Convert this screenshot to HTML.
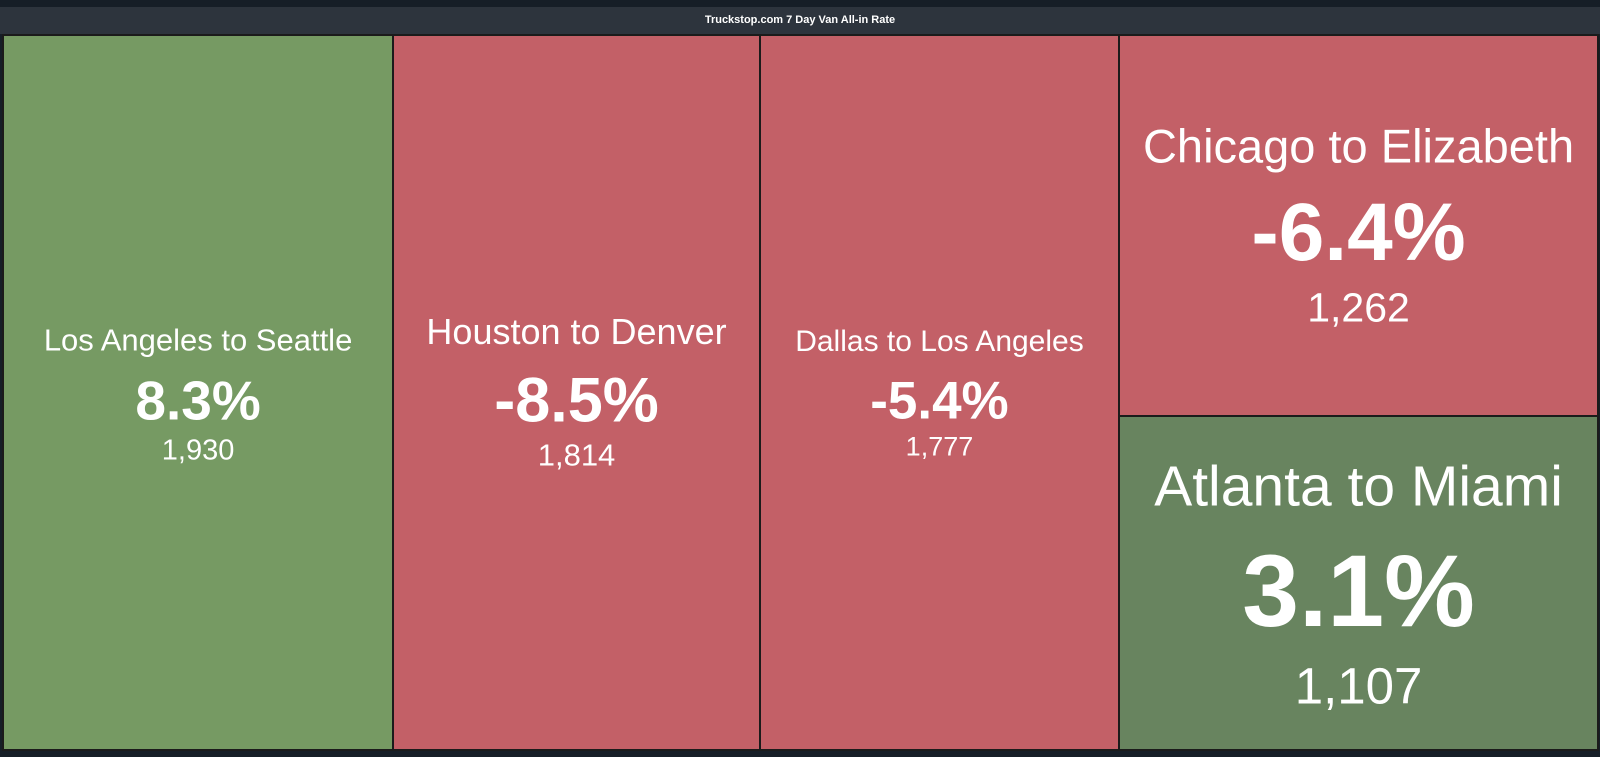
<!DOCTYPE html>
<html><head><meta charset="utf-8">
<style>
html,body{margin:0;padding:0;width:1600px;height:757px;overflow:hidden;background:#161e27;font-family:"Liberation Sans",sans-serif}
#hdr{position:absolute;left:0;top:7px;width:1600px;height:27px;background:#2d343d;color:#fff;font-size:11px;font-weight:bold;text-align:center;line-height:27px}
#tm{position:absolute;left:2px;top:34px;width:1597px;height:717px;background:#1b1b1b}
.tile{position:absolute;color:#fff;text-align:center}
.t{position:absolute;left:0;right:0;white-space:nowrap;line-height:1;transform:translateY(-50%)}
</style></head><body>
<div id="hdr">Truckstop.com 7 Day Van All-in Rate</div>
<div id="tm"></div>
<script>
const lanes = ["Los Angeles to Seattle","Houston to Denver","Dallas to Los Angeles","Chicago to Elizabeth","Atlanta to Miami"];
const changes = [8.3, -8.5, -5.4, -6.4, 3.1];
const rates = [1930, 1814, 1777, 1262, 1107];
// style settings (not data): font sizes [label, pct, value]
const fonts = [[31,55,29],[36,63,31],[30,53,27],[47,82,41],[57,102,51]];
const colors = ["#769a63","#c36067","#c36067","#c36067","#68845f"];
const tm = document.getElementById('tm');
const W = 1595, H = 715, OX = 1, OY = 1;
const total = rates.reduce((a,b)=>a+b,0);
const rects = [];
let x = 0;
for (let i=0;i<3;i++){ const w = rates[i]/total*W; rects.push([x,0,w,H]); x+=w; }
const colW = W - x, stackTot = rates[3]+rates[4];
const h3 = rates[3]/stackTot*H;
rects.push([x,0,colW,h3]); rects.push([x,h3,colW,H-h3]);
const fmt = n => n.toLocaleString('en-US');
rects.forEach((r,i)=>{
  const d = document.createElement('div');
  d.className='tile';
  
  
  const th = r[3]-2;
  d.style.left=(OX+r[0]+1)+'px'; d.style.top=(OY+r[1]+1)+'px';
  d.style.width=(r[2]-2)+'px'; d.style.height=th+'px';
  d.style.background=colors[i];
  const f = fonts[i];
  const c = th/2;
  const mk = (txt, size, bold, name, cy)=>{
    const s = document.createElement('div');
    s.className='t';
    
    
    s.style.top=cy+'px'; s.style.fontSize=size+'px';
    if(bold) s.style.fontWeight='bold';
    s.textContent=txt; d.appendChild(s);
  };
  mk(lanes[i], f[0], false, 'lane-label', c - 1.68*f[0]);
  mk(changes[i].toFixed(1)+'%', f[1], true, 'pct-change', c + 8);
  mk(fmt(rates[i]), f[2], false, 'rate-value', c + 2.02*f[2]);
  tm.appendChild(d);
});
</script>
</body></html>
